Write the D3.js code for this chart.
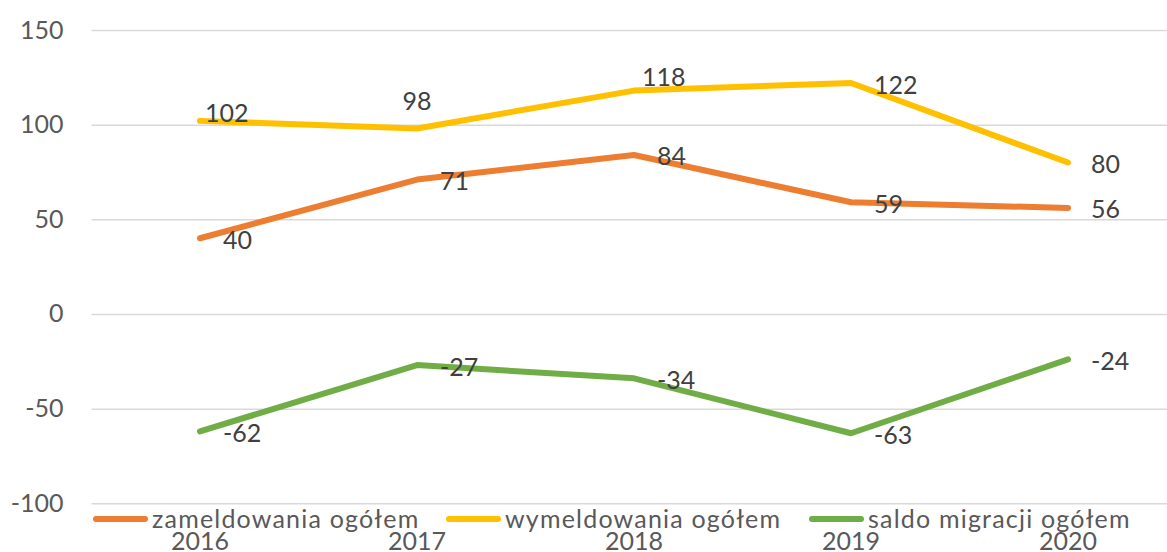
<!DOCTYPE html>
<html>
<head>
<meta charset="utf-8">
<script src="https://cdn.jsdelivr.net/npm/d3@7/dist/d3.min.js"></script>
<style>
  html, body { margin: 0; padding: 0; background: #ffffff; }
  svg { display: block; font-family: Lato, "Open Sans", sans-serif; }
</style>
</head>
<body>
<svg id="chart" width="1167" height="552"></svg>
<script>
// Years on the category axis
const years = ["2016", "2017", "2018", "2019", "2020"];

// Series values
const zameldowania = [40, 71, 84, 59, 56];
const wymeldowania = [102, 98, 118, 122, 80];
const saldoMigracji = [-62, -27, -34, -63, -24];

// Value axis ticks
const yTicks = [-100, -50, 0, 50, 100, 150];

const seriesNames = ["zameldowania ogółem", "wymeldowania ogółem", "saldo migracji ogółem"];
const seriesColors = ["#ED7D31", "#FFC000", "#70AD47"];
const seriesValues = [zameldowania, wymeldowania, saldoMigracji];

// Label offsets (px) relative to each point; default sits to the right of the point
const defaultLabel = { dx: 23, dy: 1.5, anchor: "start" };
const labelOverrides = {
  "1-0": { dx: 5, dy: -8, anchor: "start" },
  "1-1": { dx: 0, dy: -27, anchor: "middle" },
  "1-2": { dx: 8, dy: -14, anchor: "start" }
};

// Plain hyphen for negative numbers
const fmt = d => String(d).replace("\u2212", "-");

const svg = d3.select("#chart");

const x = d3.scaleBand().domain(years).range([91.5, 1176.5]);
const y = d3.scaleLinear().domain([-100, 150]).range([503.3, 30]);
const cx = d => x(d) + x.bandwidth() / 2;

// Horizontal gridlines and value labels
const yAxis = d3.axisLeft(y)
  .tickValues(yTicks)
  .tickFormat(fmt)
  .tickSize(-(1176.5 - 91.5))
  .tickPadding(28);
const gy = svg.append("g").attr("transform", "translate(91.5,0)").call(yAxis);
gy.select(".domain").remove();
gy.selectAll(".tick line").attr("stroke", "#D9D9D9").attr("stroke-width", 1.5);
gy.selectAll(".tick text")
  .attr("fill", "#595959")
  .attr("font-size", 25)
  .attr("font-family", "Lato, 'Open Sans', sans-serif");

// Category axis labels
const xAxis = d3.axisBottom(x).tickSize(0).tickPadding(0);
const gx = svg.append("g").attr("transform", "translate(0,532)").call(xAxis);
gx.select(".domain").remove();
gx.selectAll(".tick text")
  .attr("fill", "#595959")
  .attr("font-size", 25)
  .attr("dy", "0.71em")
  .attr("font-family", "Lato, 'Open Sans', sans-serif");

// Lines
const line = d3.line().x((d, i) => cx(years[i])).y(d => y(d));
seriesValues.forEach((vals, s) => {
  svg.append("path")
    .datum(vals)
    .attr("fill", "none")
    .attr("stroke", seriesColors[s])
    .attr("stroke-width", 6)
    .attr("stroke-linecap", "round")
    .attr("stroke-linejoin", "round")
    .attr("d", line);
});

// Data labels
seriesValues.forEach((vals, s) => {
  svg.append("g").selectAll("text")
    .data(vals)
    .join("text")
    .each(function (d, i) {
      const p = labelOverrides[s + "-" + i] || defaultLabel;
      d3.select(this)
        .attr("x", cx(years[i]) + p.dx)
        .attr("y", y(d) + p.dy)
        .attr("text-anchor", p.anchor);
    })
    .attr("dy", "0.36em")
    .attr("fill", "#404040")
    .attr("font-size", 25)
    .text(fmt);
});

// Legend
const legendX = [93, 446, 809];
const legend = svg.append("g");
seriesNames.forEach((name, s) => {
  legend.append("line")
    .attr("x1", legendX[s] + 3).attr("x2", legendX[s] + 52)
    .attr("y1", 519).attr("y2", 519)
    .attr("stroke", seriesColors[s])
    .attr("stroke-width", 6)
    .attr("stroke-linecap", "round");
  legend.append("text")
    .attr("x", legendX[s] + 59)
    .attr("y", 519)
    .attr("dy", "0.36em")
    .attr("fill", "#595959")
    .attr("font-size", 25)
    .attr("letter-spacing", 1.2)
    .text(name);
});
</script>
</body>
</html>
